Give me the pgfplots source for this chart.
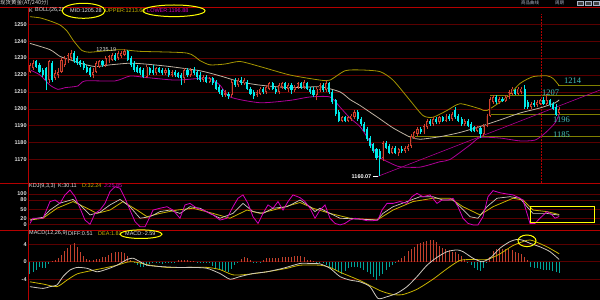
\documentclass[border=0pt]{standalone}
\usepackage{pgfplots}
\pgfplotsset{compat=1.18}
\usepackage{pgfplotstable}
\usepackage{fontspec}
\setmainfont{Liberation Sans}
\newfontfamily\cjk{Noto Sans CJK SC}
\newfontfamily\lserif{Liberation Serif}
\definecolor{sep}{RGB}{180,0,0}
\definecolor{grd}{RGB}{90,0,0}
\definecolor{txt}{RGB}{225,225,225}
\definecolor{upc}{RGB}{210,64,46}
\definecolor{dnc}{RGB}{0,235,235}
\definecolor{bup}{RGB}{165,150,0}
\definecolor{bmid}{RGB}{190,178,162}
\definecolor{blow}{RGB}{175,0,150}
\definecolor{kc}{RGB}{205,200,190}
\definecolor{dc}{RGB}{200,180,0}
\definecolor{jc}{RGB}{215,0,190}
\definecolor{olv}{RGB}{128,128,0}
\definecolor{lbl}{RGB}{70,195,190}
\definecolor{hred}{RGB}{195,65,45}
\definecolor{hteal}{RGB}{0,165,155}
\definecolor{yel}{RGB}{255,255,0}
\definecolor{btn}{RGB}{170,180,200}
\newcommand\tf{\fontsize{5.5}{6}\selectfont}

\pgfplotstableread{
x o h l c m
30.0 1222 1227 1221 1226 -2.7
33.2 1224 1229 1223 1227 -2.3
36.3 1228 1229 1224 1225 -1.8
39.5 1226 1227 1221 1222 -1.1
42.6 1223 1224 1219 1220 -1.5
45.8 1224 1225 1211 1217 -1.4
48.9 1217 1229 1215 1228 -0.5
52.1 1227 1228 1216 1217 0.2
55.2 1218 1223 1217 1221 0.4
58.4 1220 1224 1218 1222 0.8
61.5 1222 1230 1221 1229 1.6
64.7 1226 1231 1225 1230 2.5
67.8 1228 1233 1227 1232 3.2
71.0 1230 1235 1229 1233 3.9
74.1 1233 1234 1227 1228 4.2
77.3 1230 1231 1226 1227 3.4
80.4 1228 1229 1225 1226 2.3
83.6 1227 1228 1223 1224 1.4
86.7 1225 1226 1221 1222 0.7
89.9 1224 1225 1219 1220 0.3
93.0 1220 1224 1218 1222 0.5
96.2 1222 1228 1221 1227 0.6
99.3 1225 1229 1224 1228 0.7
102.5 1228 1229 1225 1226 1.0
105.6 1226 1231 1225 1230 1.1
108.8 1228 1232 1227 1231 1.6
111.9 1229 1233 1228 1232 2.0
115.1 1232 1233 1228 1229 2.2
118.2 1230 1234 1229 1233 2.3
121.4 1231 1234 1230 1233 2.3
124.5 1232 1235.19 1231 1234 2.0
127.7 1234 1235 1228 1229 1.3
130.8 1230 1231 1225 1226 0.4
134.0 1227 1228 1222 1223 -0.3
137.1 1225 1226 1221 1222 -0.8
140.3 1224 1225 1220 1221 -1.1
143.4 1223 1224 1218 1219 -1.1
146.6 1219 1226 1218 1225 -0.9
149.7 1224 1225 1220 1221 -0.5
152.9 1223 1226 1220 1221 -0.4
156.0 1221 1225 1220 1224 -0.3
159.2 1224 1225 1221 1222 -0.4
162.3 1223 1224 1220 1221 -0.5
165.5 1221 1224 1220 1223 -0.3
168.6 1223 1224 1219 1220 -0.4
171.8 1220 1223 1219 1222 -0.3
174.9 1222 1223 1219 1220 -0.2
178.1 1221 1222 1218 1219 0.3
181.2 1220 1221 1214 1218 0.4
184.4 1218 1224 1215 1223 0.4
187.5 1223 1224 1219 1220 0.3
190.7 1220 1224 1219 1223 0.1
193.8 1223 1225 1220 1221 0.1
197.0 1222 1223 1217 1219 -0.2
200.1 1220 1222 1216 1217 -0.3
203.3 1217 1220 1216 1219 -0.3
206.4 1219 1220 1215 1216 -0.2
209.6 1216 1219 1215 1218 -0.4
212.7 1218 1219 1214 1215 -1.0
215.9 1216 1217 1211 1212 -1.5
219.0 1213 1214 1209 1210 -1.9
222.2 1211 1212 1207 1208 -2.0
225.3 1208 1211 1207 1209.5 -2.2
228.5 1209 1210 1206 1207.5 -2.3
231.6 1208 1217 1207 1216 -1.6
234.8 1217 1218 1213 1214 -0.8
237.9 1214 1218 1213 1217 -0.3
241.1 1217 1219 1214 1215 0.6
244.2 1215 1218 1214 1217 1.1
247.4 1216 1217 1211 1212 0.8
250.5 1212 1213 1208 1209 0.3
253.7 1210 1211 1206 1207.5 -0.2
256.8 1208 1211 1207 1210 -0.3
260.0 1209 1213 1208 1212 -0.1
263.1 1212 1213 1209 1210 0.5
266.3 1210 1214 1209 1213 0.9
269.4 1212 1216 1211 1215 0.8
272.6 1215 1216 1211 1212 0.9
275.7 1212 1213 1209 1210 0.9
278.9 1210 1215 1209 1214 0.9
282.0 1213 1216 1212 1215 1.0
285.2 1215 1216 1211 1212 1.1
288.3 1212 1215 1210 1214 1.1
291.5 1214 1215 1209 1211 1.1
294.6 1211 1214 1210 1213 1.2
297.8 1213 1216 1212 1215 1.3
300.9 1215 1216 1212 1213 1.3
304.1 1213 1217 1212 1216 1.0
307.2 1215 1216 1211 1212 0.5
310.4 1212 1213 1209 1210 0.3
313.5 1211 1213 1207 1208 0.2
316.7 1208 1213 1205 1212 -0.1
319.8 1211 1215 1210 1214 -0.2
323.0 1214 1215 1210 1211 -0.3
326.1 1211 1217 1210 1215 -0.8
329.3 1215 1216 1209 1210 -1.1
332.4 1210 1211 1203 1204 -1.5
335.6 1205 1206 1196 1197 -1.9
338.7 1198 1199 1192 1193 -2.3
341.9 1193 1196 1192 1195 -2.7
345.0 1195 1196 1192 1193 -2.2
348.2 1193 1196 1192 1195 -1.5
351.3 1194 1197 1193 1196 -1.2
354.5 1195 1199.5 1194 1198 -1.1
357.6 1198 1199 1193 1194 -1.2
360.8 1194 1195 1190 1191 -1.5
363.9 1191 1192 1186 1187 -2.0
367.1 1188 1189 1181 1182 -2.4
370.2 1183 1184 1177 1178 -2.7
373.4 1179 1180 1174 1175 -3.4
376.5 1176 1177 1170 1171 -4.2
379.7 1175 1176 1160.07 1170.5 -3.2
382.8 1171 1181 1169 1180 -2.7
386.0 1180 1181 1176 1177 -1.9
389.1 1178 1179 1173 1174 -1.1
392.3 1174 1178 1173 1177 -0.8
395.4 1177 1178 1173 1174 -0.3
398.6 1174 1177 1172 1176 0.3
401.7 1176.5 1178 1174 1175 0.8
404.9 1175 1178 1174 1177 1.4
408.0 1176 1179 1175 1178 2.4
411.2 1178 1185 1177 1184 3.0
414.3 1183 1187 1182 1186 3.4
417.5 1185 1189 1184 1188 4.0
420.6 1188 1189 1185 1186 4.3
423.8 1186 1191 1185 1190 4.6
426.9 1189 1194 1188 1193 4.8
430.1 1193 1194 1190 1191 5.0
433.2 1191 1195 1190 1194 5.0
436.4 1194 1195 1191 1192 4.5
439.5 1192 1196 1191 1195 3.6
442.7 1195 1196 1192 1193 3.2
445.8 1193 1197 1192 1196 2.9
449.0 1196 1197 1193 1194 2.6
452.1 1194 1198 1193 1197 2.3
455.3 1199 1201 1194 1195 2.3
458.4 1196 1197 1192 1193 1.8
461.6 1194 1195 1190 1191 1.2
464.7 1191 1194 1190 1193 0.6
467.9 1193 1194 1189 1190 -0.3
471.0 1191 1192 1186 1187 -0.8
474.2 1189 1190 1186 1187 -1.4
477.3 1187 1190 1186 1189 -1.9
480.5 1188.5 1189 1183 1185 -2.2
483.6 1185 1191 1184 1190 -1.5
486.8 1190 1197 1189 1196 -0.4
489.9 1196 1207 1195 1206 1.0
493.1 1204 1208 1203 1207 2.4
496.2 1207 1208 1203 1204 3.0
499.4 1204 1207 1203 1206 3.0
502.5 1206 1207 1204 1204.5 3.0
505.7 1204.5 1208 1204 1207 2.9
508.8 1207 1211 1206 1210 2.8
512.0 1209 1213 1208 1212 2.6
515.1 1211 1212 1208 1209 2.3
518.3 1209 1213 1208 1212 2.1
521.4 1210 1213 1209 1212 1.7
524.6 1212 1214 1200 1201 1.0
527.7 1204 1205 1200 1201 0.3
530.9 1201 1204 1200 1203 -1.1
534.0 1203.5 1205 1201 1202 -1.5
537.2 1202 1205 1201 1204 -1.5
540.3 1203 1206 1202 1205 -1.6
543.5 1205 1207 1202 1203 -1.8
546.6 1203 1209 1202 1205 -1.9
549.8 1205 1206 1201 1202 -1.9
552.9 1203 1204 1199 1200 -2.1
556.1 1201 1203 1196 1196.5 -2.3
559.2 1197.5 1201 1197 1200 -2.59
}\candles

\pgfplotsset{
  panel/.style={scale only axis, width=572pt, xmin=28, xmax=600,
    anchor=south west, axis x line=none, axis y line*=left, xtick=\empty,
    axis line style={draw=sep, line width=0.8pt, -},
    major tick length=0pt, ymajorgrids,
    grid style={draw=grd, line width=0.5pt},
    yticklabel style={font=\tf\bfseries, text=txt, inner sep=1.2pt},
    /pgf/number format/assume math mode=true,
    /pgf/number format/1000 sep={}},
}

\begin{document}
\begin{tikzpicture}
\useasboundingbox (0,0) rectangle (600pt,300pt);
\fill[black] (0,0) rectangle (600pt,300pt);

% ---------- main price panel ----------
\begin{axis}[panel, at={(28pt,117pt)}, height=176pt,
  ymin=1156.1, ymax=1260.24, ytick={1170,1180,...,1250}]
\addplot[olv, line width=0.8pt] coordinates {(558,1213.6) (600,1213.6)};
\addplot[olv, line width=0.8pt] coordinates {(490,1208) (600,1208)};
\addplot[olv, line width=0.8pt] coordinates {(490,1196.8) (600,1196.8)};
\addplot[olv, line width=0.8pt] coordinates {(408,1183.4) (600,1183.4)};
\addplot[sep, line width=0.5pt, dash pattern=on 1.5pt off 1.5pt] coordinates {(541,1156.1) (541,1256)};
\addplot[blow, line width=0.6pt] coordinates {(378,1160.07) (600,1211.1)};
% Bollinger
\addplot[bup, line width=0.8pt, smooth, tension=0.4] coordinates {
(30,1254.5) (40,1253.8) (50,1252) (60,1249.6) (67,1246) (73,1240.7) (78,1237) (82,1234.5) (90,1233.5) (120,1235) (140,1234) (187,1233) (200,1228.5) (210,1226) (225,1226.5) (240,1228) (260,1225) (290,1220) (320,1217) (330,1217) (345,1222.5) (360,1223) (380,1222) (393,1217) (410,1205) (423,1196) (433,1195) (447,1199) (460,1203) (480,1200) (487,1199) (507,1207) (520,1215) (533,1219) (547,1219.5) (553,1218) (559.2,1213.7)};
\addplot[bmid, line width=0.8pt, smooth, tension=0.4] coordinates {
(30,1238.7) (50,1235) (60,1231) (70,1229) (80,1227) (95,1225) (110,1226) (130,1227) (145,1226.5) (170,1225) (200,1222.5) (220,1219.5) (240,1216) (260,1214) (290,1212.5) (320,1213) (340,1210) (350,1205.5) (360,1202) (370,1198) (380,1194) (393,1188.7) (410,1183.3) (420,1182) (440,1183.5) (460,1186) (480,1189.5) (500,1193.4) (520,1197.5) (540,1200.5) (555,1203.5) (559.2,1205.3)};
\addplot[blow, line width=0.8pt, smooth, tension=0.4] coordinates {
(30,1223) (40,1220) (50,1214) (58,1211.5) (65,1212.5) (78,1213.5) (85,1216.5) (115,1216.5) (130,1219.4) (145,1218.6) (175,1217) (200,1218) (210,1218) (220,1214) (230,1207) (260,1203.6) (290,1205) (310,1207) (330,1207) (340,1201) (350,1194.5) (360,1189.5) (370,1180.5) (378,1172) (390,1168) (400,1165.7) (420,1165.5) (440,1168.7) (450,1170) (470,1178.6) (480,1183) (500,1182.7) (520,1181) (535,1181.5) (545,1185.6) (555,1191.6) (559.2,1196.9)};
% candles: wicks
\addplot[draw=upc, line width=0.6pt, quiver={u=0, v=\thisrow{h}-\thisrow{l}},
  restrict expr to domain={\thisrow{c}-\thisrow{o}}{0:1000}] table[x=x, y=l] {\candles};
\addplot[draw=dnc, line width=0.6pt, quiver={u=0, v=\thisrow{h}-\thisrow{l}},
  restrict expr to domain={\thisrow{o}-\thisrow{c}}{0.0001:1000}] table[x=x, y=l] {\candles};
% candles: bodies
\addplot[draw=upc, line width=2.1pt, quiver={u=0, v=\thisrow{c}-\thisrow{o}},
  restrict expr to domain={\thisrow{c}-\thisrow{o}}{0:1000}] table[x=x, y=o] {\candles};
% hollow interior of rising candles
\addplot[draw=black!80!upc, line width=0.7pt, quiver={u=0, v=\thisrow{c}-\thisrow{o}-1.1},
  restrict expr to domain={\thisrow{c}-\thisrow{o}}{1.6:1000}] table[x=x, y expr=\thisrow{o}+0.55] {\candles};
\addplot[draw=dnc, line width=2.1pt, quiver={u=0, v=\thisrow{o}-\thisrow{c}},
  restrict expr to domain={\thisrow{o}-\thisrow{c}}{0.0001:1000}] table[x=x, y=c] {\candles};
% labels
\node[font=\tf, text=txt, anchor=east, inner sep=0.5pt] at (axis cs:117,1234.9) {1235.19};
\node[font=\tf\bfseries, text=white, anchor=east, inner sep=0.5pt] at (axis cs:372,1159.7) {1160.07};
\addplot[white, line width=0.5pt] coordinates {(373,1160.07) (378,1160.07)};
\node[font=\lserif\fontsize{8.5}{9}\selectfont, text=lbl, anchor=west, inner sep=0pt] at (axis cs:564,1216.6) {1214};
\node[font=\lserif\fontsize{8.5}{9}\selectfont, text=lbl, anchor=west, inner sep=0pt] at (axis cs:542,1209.5) {1207};
\node[font=\lserif\fontsize{8.5}{9}\selectfont, text=lbl, anchor=west, inner sep=0pt] at (axis cs:553,1193.4) {1196};
\node[font=\lserif\fontsize{8.5}{9}\selectfont, text=lbl, anchor=west, inner sep=0pt] at (axis cs:553,1184.5) {1185};
\end{axis}

% ---------- KDJ panel ----------
\begin{axis}[panel, at={(28pt,70pt)}, height=47pt,
  ymin=-18.8, ymax=136.3, ytick={0,20,50,80,100}]
\addplot[dc, line width=0.8pt] coordinates {
(30,14) (43,20) (57,53) (73,75) (87,53) (97,36) (110,47) (123,75) (137,47) (147,25) (160,36) (177,47) (193,53) (213,36) (230,20) (247,47) (260,36) (280,53) (300,72) (313,53) (330,36) (350,20) (377,14) (393,47) (413,75) (433,86) (450,86) (463,58) (480,31) (493,58) (513,86) (523,80) (533,47) (547,42) (559.2,32.24)};
\addplot[kc, line width=0.7pt] coordinates {
(30,14) (37,20) (43,23) (50,47) (60,70) (73,82) (80,64) (90,31) (100,40) (110,64) (120,82) (130,58) (140,20) (150,25) (160,42) (170,47) (180,36) (190,58) (200,53) (210,36) (220,20) (233,36) (243,69) (253,42) (263,36) (273,53) (287,58) (300,80) (310,58) (315,42) (320,53) (330,36) (340,20) (360,17) (377,14) (383,36) (393,58) (407,75) (420,91) (433,91) (443,80) (453,80) (460,58) (470,25) (478,20) (487,58) (497,86) (510,91) (520,86) (527,58) (533,36) (547,36) (559.2,30.11)};
\addplot[jc, line width=0.8pt] coordinates {
(30,3) (33,20) (43,20) (50,75) (55,80) (60,69) (65,97) (70,113) (75,91) (80,53) (85,14) (90,0) (95,36) (100,47) (105,69) (110,108) (115,124) (120,119) (125,86) (130,47) (135,9) (140,-8) (145,-8) (150,25) (153,47) (160,53) (167,58) (173,47) (180,20) (185,64) (190,69) (197,53) (203,47) (213,31) (220,14) (227,20) (233,58) (238,86) (243,97) (248,69) (253,25) (258,3) (263,36) (268,64) (273,53) (278,75) (283,47) (288,75) (293,97) (300,88) (305,75) (310,53) (315,20) (320,47) (325,64) (330,20) (335,3) (340,-2) (345,3) (350,14) (355,20) (360,17) (367,12) (373,12) (378,14) (382,47) (387,69) (393,69) (400,75) (407,69) (412,91) (417,102) (423,91) (430,97) (437,69) (442,80) (448,80) (453,86) (458,58) (463,20) (468,3) (473,-2) (478,-2) (483,25) (488,91) (493,111) (500,104) (507,100) (513,97) (520,86) (523,80) (527,36) (530,3) (535,3) (540,20) (547,42) (552,31) (555,20) (559.2,25.85)};
\end{axis}

% ---------- MACD panel ----------
\begin{axis}[panel, at={(28pt,0pt)}, height=70pt,
  ymin=-8.75, ymax=7.25, ytick={-4,0,4}]
\addplot[ycomb, draw=hred, line width=1pt, restrict y to domain=0:100] table[x=x, y=m] {\candles};
\addplot[ycomb, draw=hteal, line width=1pt, restrict y to domain=-100:-0.0001] table[x=x, y=m] {\candles};
\addplot[dc, line width=0.8pt, smooth, tension=0.4] coordinates {
(30,-4.6) (43,-5.1) (57,-5.7) (67,-4.2) (77,-2.8) (90,-2.1) (103,-1.5) (117,-0.8) (127,-0.1) (133,0) (140,-0.3) (150,-0.8) (167,-1.3) (187,-1.3) (207,-1.3) (220,-1.8) (233,-3.0) (247,-2.9) (267,-2.3) (287,-1.5) (300,-0.8) (320,-0.8) (330,-1.3) (340,-2.4) (360,-4.3) (380,-6.6) (393,-7.5) (403,-7.5) (417,-6.3) (433,-4.0) (447,-1.6) (460,0.3) (473,0.5) (487,0.5) (500,1.8) (513,3.7) (527,4.9) (533,4.8) (547,3.4) (559.2,1.81)};
\addplot[kc, line width=0.8pt, smooth, tension=0.4] coordinates {
(30,-5.7) (43,-6.1) (50,-5.7) (57,-5.3) (63,-3.4) (70,-1.9) (77,-1.3) (87,-1.5) (97,-2.3) (107,-1.7) (117,-0.8) (127,0.5) (133,0.8) (140,0) (147,-0.8) (160,-1.1) (177,-1.3) (193,-1.3) (207,-1.5) (220,-2.7) (230,-4.0) (240,-3.4) (253,-2.7) (267,-2.3) (283,-1.5) (300,-0.4) (310,-0.4) (320,-0.5) (330,-1.5) (340,-3.4) (350,-4.2) (360,-4.6) (370,-5.7) (378,-8.4) (387,-8.0) (397,-7.2) (407,-5.7) (417,-3.4) (427,-0.8) (437,1.0) (447,2.3) (457,2.7) (463,2.3) (473,0.8) (482,0) (490,0.8) (500,3.1) (510,4.6) (517,5.1) (523,4.9) (530,4.2) (540,3.4) (550,2.3) (559.2,0.51)};
\end{axis}

% ---------- frame lines ----------
\draw[sep, line width=0.8pt] (0,293pt) -- (600pt,293pt);
\draw[sep, line width=0.8pt] (0,117pt) -- (600pt,117pt);
\draw[sep, line width=0.8pt] (0,70pt) -- (600pt,70pt);
\draw[sep, line width=0.8pt] (28pt,0) -- (28pt,293pt);

% ---------- header texts ----------
\node[anchor=west, inner sep=0pt, text=txt, font=\cjk\fontsize{5.5}{6}\selectfont] at (0pt,296.8pt) {现货黄金(AT/240分)};
\node[anchor=west, inner sep=0pt, text=btn, font=\cjk\fontsize{4.5}{5}\selectfont] at (521pt,296.8pt) {商品曲线};
\node[anchor=west, inner sep=0pt, text=btn, font=\cjk\fontsize{4.5}{5}\selectfont] at (555pt,296.8pt) {周期};
\foreach \bx in {577,585,593}{
  \draw[btn, line width=0.4pt, fill=black!75] (\bx pt,294.8pt) rectangle ++(6.5pt,4.2pt);
}

\node[anchor=west, inner sep=0pt, text=txt, font=\tf] at (29pt,289.5pt) {K};
\node[anchor=west, inner sep=0pt, text=txt, font=\tf] at (35pt,289.5pt) {BOLL(26,2)};
\node[anchor=west, inner sep=0pt, text=txt, font=\tf] at (70pt,289.5pt) {MID:1205.28};
\node[anchor=west, inner sep=0pt, text=dc, font=\tf] at (105pt,289.5pt) {UPPER:1213.68};
\node[anchor=west, inner sep=0pt, text=jc, font=\tf] at (147pt,289.5pt) {LOWER:1196.88};

\node[anchor=west, inner sep=0pt, text=txt, font=\tf] at (29pt,114pt) {KDJ(9,3,3)};
\node[anchor=west, inner sep=0pt, text=txt, font=\tf] at (58pt,114pt) {K:30.11};
\node[anchor=west, inner sep=0pt, text=dc, font=\tf] at (82pt,114pt) {D:32.24};
\node[anchor=west, inner sep=0pt, text=jc, font=\tf] at (104pt,114pt) {J:25.85};

\node[anchor=west, inner sep=0pt, text=txt, font=\tf] at (29pt,66.5pt) {MACD(12,26,9)};
\node[anchor=west, inner sep=0pt, text=txt, font=\tf] at (68pt,66.5pt) {DIFF:0.51};
\node[anchor=west, inner sep=0pt, text=dc, font=\tf] at (98pt,66.5pt) {DEA:1.81};
\node[anchor=west, inner sep=0pt, text=txt, font=\tf] at (125pt,66.5pt) {MACD:-2.59};

% ---------- yellow annotations ----------
\draw[yel, line width=1pt] (83.5pt,289.2pt) ellipse [x radius=21.5pt, y radius=7.5pt];
\draw[yel, line width=1pt] (174pt,289.2pt) ellipse [x radius=31pt, y radius=5.8pt];
\draw[yel, line width=1pt] (141pt,65.8pt) ellipse [x radius=21pt, y radius=4.3pt];
\draw[yel, line width=1pt] (527pt,59.2pt) ellipse [x radius=9pt, y radius=5.8pt];
\draw[yel, line width=1pt] (530pt,77.7pt) rectangle (594pt,93.3pt);
\end{tikzpicture}
\end{document}
